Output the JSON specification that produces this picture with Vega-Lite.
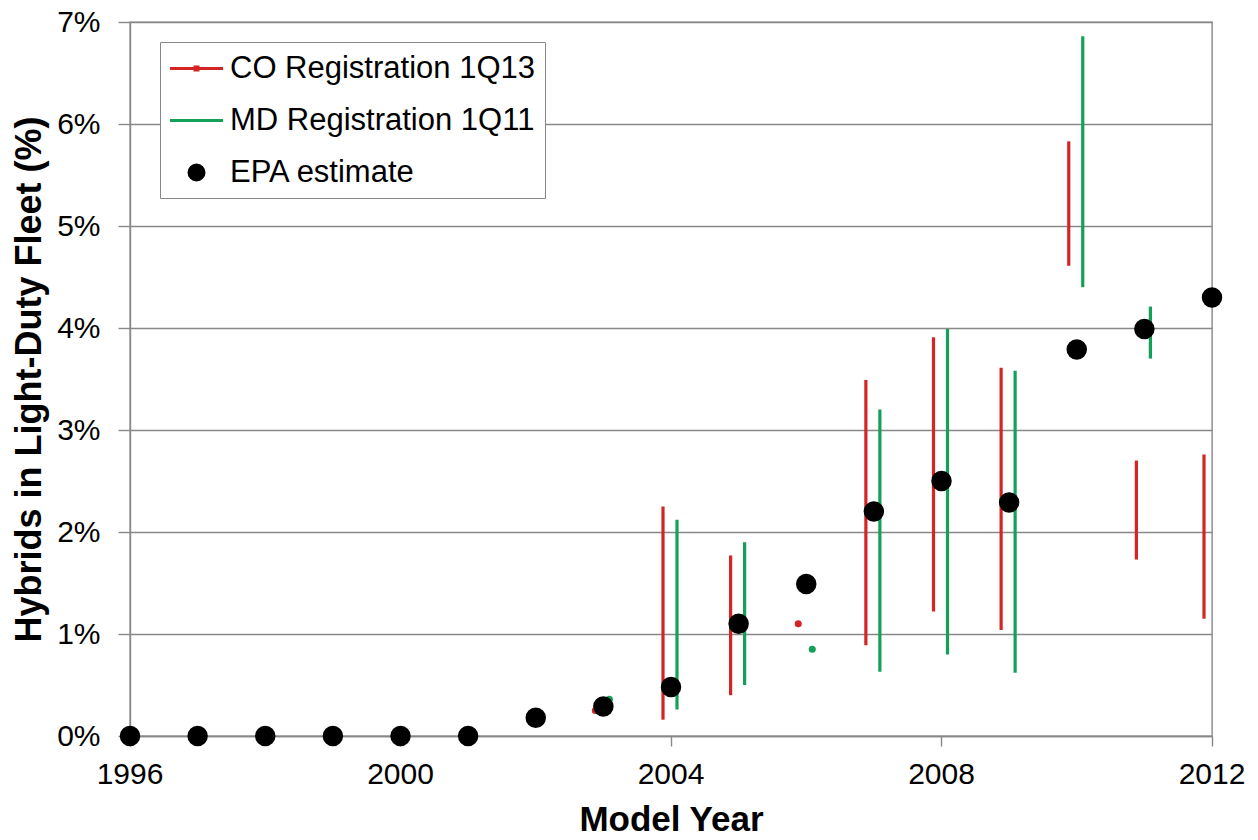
{
  "$schema": "https://vega.github.io/schema/vega-lite/v6.json",
  "autosize": "none",
  "width": 1082,
  "height": 714,
  "padding": {"left": 130, "top": 22, "right": 46, "bottom": 104},
  "background": "white",
  "config": {
    "view": {"stroke": "#888888", "strokeWidth": 1.4},
    "font": "Liberation Sans",
    "axis": {
      "labelFont": "Liberation Sans",
      "labelFontSize": 30,
      "labelColor": "#000000",
      "titleFont": "Liberation Sans",
      "titleFontWeight": "bold",
      "titleColor": "#000000",
      "domainColor": "#888888",
      "domainWidth": 1.4,
      "tickColor": "#888888",
      "tickWidth": 1.4,
      "gridColor": "#888888",
      "gridWidth": 1.4
    }
  },
  "datasets": {
    "registrations": [
      {"year": 2003, "series": "CO Registration 1Q13", "low": 0.25, "high": 0.25},
      {"year": 2004, "series": "CO Registration 1Q13", "low": 0.16, "high": 2.25},
      {"year": 2005, "series": "CO Registration 1Q13", "low": 0.40, "high": 1.77},
      {"year": 2006, "series": "CO Registration 1Q13", "low": 1.10, "high": 1.10},
      {"year": 2007, "series": "CO Registration 1Q13", "low": 0.89, "high": 3.49},
      {"year": 2008, "series": "CO Registration 1Q13", "low": 1.22, "high": 3.91},
      {"year": 2009, "series": "CO Registration 1Q13", "low": 1.04, "high": 3.61},
      {"year": 2010, "series": "CO Registration 1Q13", "low": 4.61, "high": 5.83},
      {"year": 2011, "series": "CO Registration 1Q13", "low": 1.73, "high": 2.70},
      {"year": 2012, "series": "CO Registration 1Q13", "low": 1.15, "high": 2.76},
      {"year": 2003, "series": "MD Registration 1Q11", "low": 0.36, "high": 0.36},
      {"year": 2004, "series": "MD Registration 1Q11", "low": 0.26, "high": 2.12},
      {"year": 2005, "series": "MD Registration 1Q11", "low": 0.50, "high": 1.90},
      {"year": 2006, "series": "MD Registration 1Q11", "low": 0.85, "high": 0.85},
      {"year": 2007, "series": "MD Registration 1Q11", "low": 0.63, "high": 3.20},
      {"year": 2008, "series": "MD Registration 1Q11", "low": 0.80, "high": 3.99},
      {"year": 2009, "series": "MD Registration 1Q11", "low": 0.62, "high": 3.58},
      {"year": 2010, "series": "MD Registration 1Q11", "low": 4.40, "high": 6.86},
      {"year": 2011, "series": "MD Registration 1Q11", "low": 3.70, "high": 4.21}
    ],
    "epa": [
      {"year": 1996, "share": 0},
      {"year": 1997, "share": 0},
      {"year": 1998, "share": 0},
      {"year": 1999, "share": 0},
      {"year": 2000, "share": 0},
      {"year": 2001, "share": 0},
      {"year": 2002, "share": 0.18},
      {"year": 2003, "share": 0.29},
      {"year": 2004, "share": 0.48},
      {"year": 2005, "share": 1.10},
      {"year": 2006, "share": 1.49},
      {"year": 2007, "share": 2.20},
      {"year": 2008, "share": 2.50},
      {"year": 2009, "share": 2.29},
      {"year": 2010, "share": 3.79},
      {"year": 2011, "share": 3.99},
      {"year": 2012, "share": 4.30}
    ]
  },
  "layer": [
    {
      "data": {"name": "registrations"},
      "mark": {"type": "rule", "strokeWidth": 3.2},
      "encoding": {
        "x": {
          "field": "year", "type": "ordinal",
          "scale": {"type": "band", "paddingInner": 1, "paddingOuter": 0, "domain": [1996,1997,1998,1999,2000,2001,2002,2003,2004,2005,2006,2007,2008,2009,2010,2011,2012]},
          "axis": {
            "values": [1996, 2000, 2004, 2008, 2012],
            "labelAngle": 0,
            "tickSize": 10,
            "labelPadding": 13,
            "title": "Model Year",
            "titleFontSize": 35,
            "titlePadding": 13,
            "grid": false
          }
        },
        "xOffset": {
          "field": "series", "type": "nominal",
          "scale": {"type": "point", "padding": 0, "domain": ["CO Registration 1Q13", "MD Registration 1Q11"], "range": [-8, 6]}
        },
        "y": {
          "field": "low", "type": "quantitative",
          "scale": {"domain": [0, 7], "nice": false},
          "axis": {
            "values": [0, 1, 2, 3, 4, 5, 6, 7],
            "labelExpr": "datum.value + '%'",
            "tickSize": 12,
            "labelPadding": 18,
            "grid": true,
            "title": "Hybrids in Light-Duty Fleet (%)",
            "titleFontSize": 36,
            "titlePadding": 8
          }
        },
        "y2": {"field": "high"},
        "color": {
          "field": "series", "type": "nominal",
          "scale": {
            "domain": ["CO Registration 1Q13", "MD Registration 1Q11", "EPA estimate"],
            "range": ["#d42424", "#14a058", "#000000"]
          },
          "legend": {
            "title": null,
            "orient": "none",
            "legendX": 30,
            "legendY": 20,
            "padding": 10,
            "symbolOffset": 10,
            "symbolSize": 900,
            "rowPadding": 20,
            "labelOffset": 17,
            "labelFont": "Liberation Sans",
            "labelFontSize": 31,
            "labelColor": "#000000",
            "labelLimit": 400,
            "strokeColor": "#888888",
            "fillColor": "#ffffff",
            "encode": {
              "symbols": {
                "update": {
                  "shape": {"signal": "datum.value === 'EPA estimate' ? 'M-0.5,0A0.5,0.5,0,1,1,0.5,0A0.5,0.5,0,1,1,-0.5,0Z' : datum.value === 'CO Registration 1Q13' ? 'M-1.77,0H1.77M-0.1,-0.1H0.1V0.1H-0.1Z' : 'M-1.77,0H1.77'"},
                  "fill": {"scale": "color", "field": "value"},
                  "stroke": {"scale": "color", "field": "value"},
                  "strokeWidth": {"value": 3},
                  "opacity": {"value": 1}
                }
              }
            }
          }
        }
      }
    },
    {
      "data": {"name": "registrations"},
      "transform": [{"filter": "datum.low === datum.high"}],
      "mark": {"type": "point", "filled": true, "shape": "circle", "size": 50, "opacity": 1},
      "encoding": {
        "x": {"field": "year", "type": "ordinal"},
        "xOffset": {"field": "series", "type": "nominal"},
        "y": {"field": "low", "type": "quantitative"},
        "color": {"field": "series", "type": "nominal", "legend": null}
      }
    },
    {
      "data": {"name": "epa"},
      "mark": {"type": "point", "filled": true, "shape": "circle", "size": 420, "color": "#000000", "opacity": 1},
      "encoding": {
        "x": {"field": "year", "type": "ordinal"},
        "y": {"field": "share", "type": "quantitative"}
      }
    }
  ]
}
